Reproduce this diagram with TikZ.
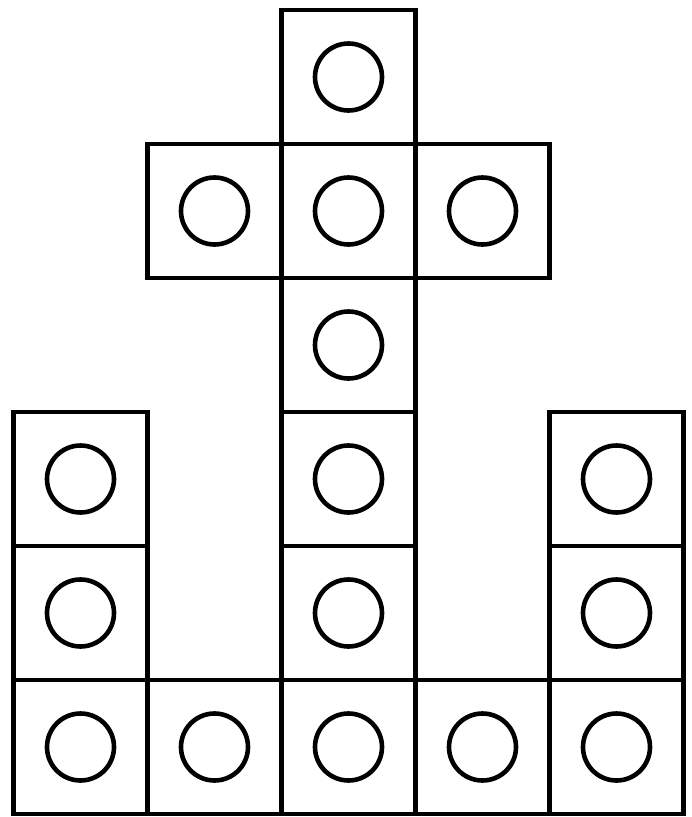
\documentclass[tikz,border=0pt]{standalone}
\begin{document}
\begin{tikzpicture}[x=1pt,y=-1pt,
  cell/.style={draw=black,line width=4.8pt,rectangle,minimum size=134pt,inner sep=0pt},
  dot/.style={draw=black,line width=4.6pt,circle,minimum size=67pt,inner sep=0pt}]
\useasboundingbox (0,0) rectangle (692,817);
\foreach \r/\c in {0/2,1/1,1/2,1/3,2/2,3/0,3/2,3/4,4/0,4/2,4/4,5/0,5/1,5/2,5/3,5/4}{
  \node[cell] (s\r\c) at ({80.5+134*\c},{77+134*\r}) {};
  \node[dot] (c\r\c) at (s\r\c.center) {};
}
\end{tikzpicture}
\end{document}
